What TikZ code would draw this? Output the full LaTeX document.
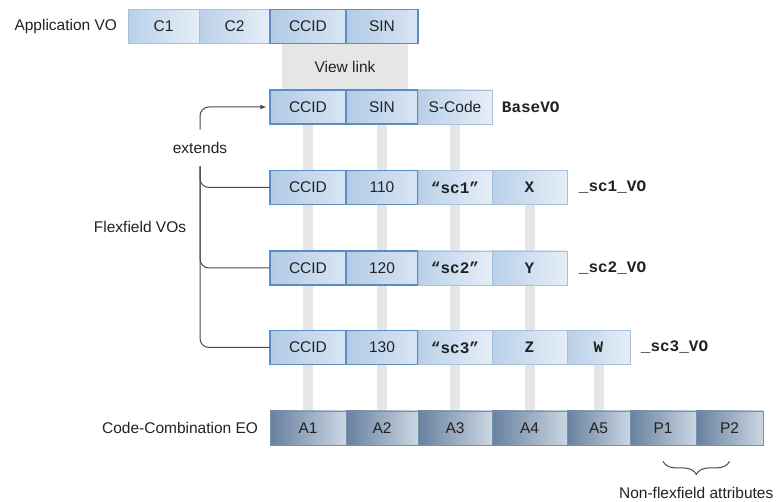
\documentclass[tikz,border=0pt]{standalone}
\usepackage{fontspec}
\setmainfont{Liberation Sans}
\newfontfamily\codefont{Liberation Mono}
\usetikzlibrary{arrows.meta, positioning, backgrounds, decorations.pathreplacing}
\definecolor{ckeyedge}{HTML}{5B8CC3}
\definecolor{cedge}{HTML}{A9C1DA}
\definecolor{cfillA}{HTML}{B9D0E9}
\definecolor{cfillB}{HTML}{E6EEF7}
\definecolor{ceoA}{HTML}{67819F}
\definecolor{ceoB}{HTML}{CBD6E2}
\definecolor{ceoedge}{HTML}{7890A9}
\definecolor{cband}{HTML}{E6E6E6}
\definecolor{cline}{HTML}{4A4A4A}
\definecolor{ctext}{HTML}{222222}
\tikzset{
  every picture/.style={font=\fontsize{15.5}{18}\selectfont, x=1pt, y=-1pt},
  cell/.style={draw=cedge, line width=0.8pt, left color=cfillA, right color=cfillB, minimum height=34pt, inner sep=0pt, text=ctext},
  keycell/.style={cell, draw=ckeyedge, line width=1.3pt, left color=cfillA!92!ckeyedge, right color=cfillB!70!cfillA},
  eocell/.style={cell, draw=ceoedge, left color=ceoA, right color=ceoB},
  code/.style={font=\codefont\bfseries\fontsize{16}{18}\selectfont, text=ctext},
  lbl/.style={text=ctext},
  conn/.style={draw=cline, line width=1pt, rounded corners=9pt},
  viewbar/.style={draw=cband, line width=10pt},
}

\begin{document}
\begin{tikzpicture}[band/.style={fill=cband, inner sep=0pt, text=ctext}]
  \useasboundingbox (0,0) rectangle (780,502);
  % application VO and the view link under it
  \node[band, minimum width=126pt, minimum height=47pt] (vlink) at (345,66.5) {View link};
  \foreach \name/\xa/\xb [count=\i] in {C1/128/199, C2/199/270}
    \node[cell, minimum width={\xb pt-\xa pt}] (app\i) at ({(\xa+\xb)/2},26.5) {\name};
  \node[keycell, minimum width=76pt] (app3) at (308,26.5) {CCID};
  \node[keycell, minimum width=72pt] (app4) at (382,26.5) {SIN};
  \node[lbl, left=7pt of app1] (appvo) {Application VO};
  % flexfield VO rows
  \foreach \row/\yy/\sin in {base/107/SIN, sc1/187.5/110, sc2/268/120, sc3/347.5/130} {
    \node[keycell, minimum width=76pt] (\row-c1) at (308,\yy) {CCID};
    \node[keycell, minimum width=72pt] (\row-c2) at (382,\yy) {\sin};
  }
  \node[cell, minimum width=74pt] (base-c3) at (455,107) {S-Code};
  \foreach \row/\yy/\var in {sc1/187.5/X, sc2/268/Y, sc3/347.5/Z} {
    \node[cell, code, minimum width=74pt] (\row-c3) at (455,\yy) {“\row”};
    \node[cell, code, minimum width=75pt] (\row-c4) at (529.5,\yy) {\var};
  }
  \node[cell, code, minimum width=63pt] (sc3-c5) at (598.5,347.5) {W};
  \node[code, right=6pt of base-c3] (basevo) {BaseVO};
  \node[code, right=8pt of sc1-c4] (sc1vo) {\_sc1\_VO};
  \node[code, right=8pt of sc2-c4] (sc2vo) {\_sc2\_VO};
  \node[code, right=7pt of sc3-c5] (sc3vo) {\_sc3\_VO};
  % entity object
  \foreach \name/\xa/\xb [count=\i] in {A1/270/346, A2/346/418, A3/418/492, A4/492/567, A5/567/630, P1/630/696, P2/696/763}
    \node[eocell, minimum width={\xb pt-\xa pt}] (eo\i) at ({(\xa+\xb)/2},428) {\name};
  \node[lbl, left=8pt of eo1] (cceo) {Code-Combination EO};
  % attribute mappings
  \begin{scope}[on background layer]
    \foreach \top/\bot in {base-c1/eo1, base-c2/eo2, base-c3/eo3, sc1-c4/eo4, sc3-c5/eo5}
      \draw[viewbar] (\top) -- (\bot);
  \end{scope}
  % extends
  \node[lbl, inner xsep=2pt, inner ysep=12.5pt] (extends) at (200,148) {extends};
  \node[lbl] (flexvo) at (140,227) {Flexfield VOs};
  \draw[conn, -{Latex[length=6pt, width=5pt]}, shorten >=3pt] (extends.north) |- (base-c1.west);
  \foreach \row in {sc1, sc2, sc3}
    \draw[conn] (extends.south) |- (\row-c1.west);
  \draw[cline, line width=1pt, decorate, decoration={brace, mirror, amplitude=13pt}]
    ([yshift=-16pt]eo6.south) -- ([yshift=-16pt]eo7.south)
    node[lbl, midway, below=22pt] (nonflex) {Non-flexfield attributes};
\end{tikzpicture}
\end{document}
